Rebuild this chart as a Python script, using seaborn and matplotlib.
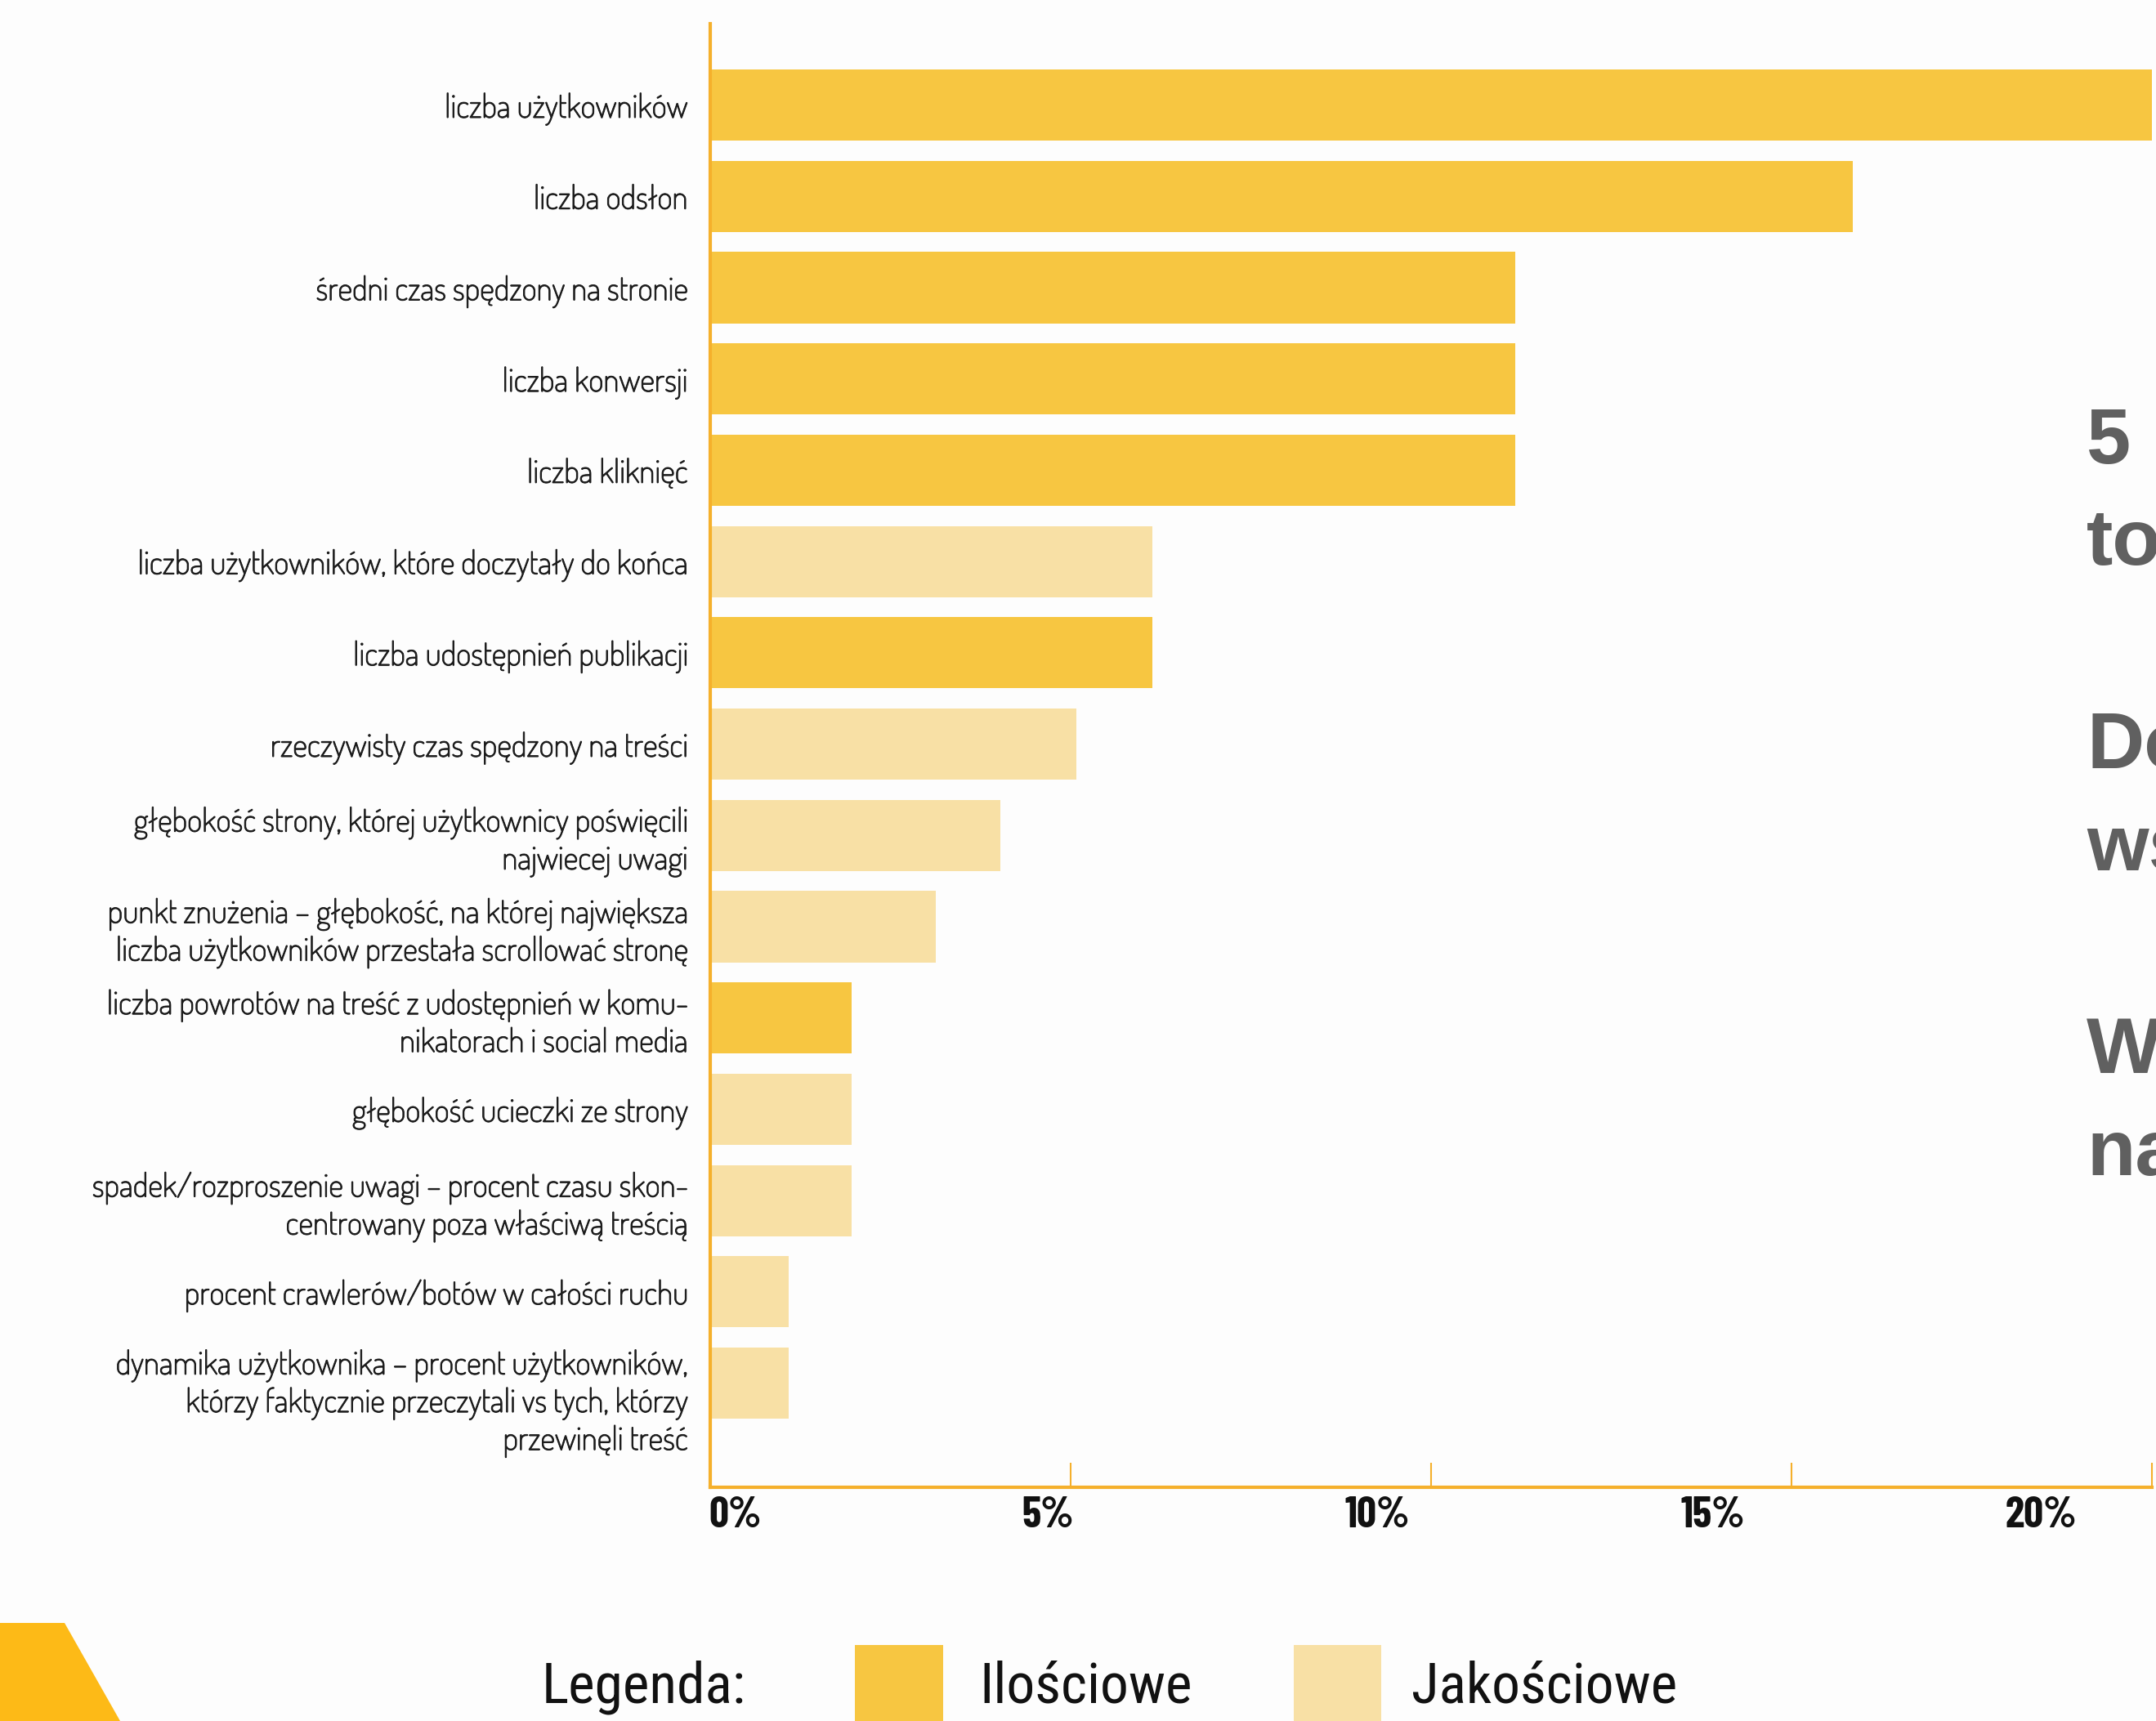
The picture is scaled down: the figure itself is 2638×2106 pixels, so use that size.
import matplotlib
matplotlib.use("Agg")
import matplotlib.pyplot as plt
import matplotlib.patheffects as pe
from matplotlib.patches import Rectangle, Polygon
from matplotlib.transforms import ScaledTranslation
import pandas as pd
import seaborn as sns

# --- data -------------------------------------------------------------------
metrics = [
    "liczba użytkowników",
    "liczba odsłon",
    "średni czas spędzony na stronie",
    "liczba konwersji",
    "liczba kliknięć",
    "liczba użytkowników, które doczytały do końca",
    "liczba udostępnień publikacji",
    "rzeczywisty czas spędzony na treści",
    "głębokość strony, której użytkownicy poświęcili\nnajwiecej uwagi",
    "punkt znużenia – głębokość, na której największa\nliczba użytkowników przestała scrollować stronę",
    "liczba powrotów na treść z udostępnień w komu-\nnikatorach i social media",
    "głębokość ucieczki ze strony",
    "spadek/rozproszenie uwagi – procent czasu skon-\ncentrowany poza właściwą treścią",
    "procent crawlerów/botów w całości ruchu",
    "dynamika użytkownika – procent użytkowników,\nktórzy faktycznie przeczytali vs tych, którzy\nprzewinęli treść",
]
shares = [20.0, 15.85, 11.17, 11.17, 11.17, 6.13, 6.13, 5.08, 4.03, 3.13, 1.96, 1.96, 1.96, 1.09, 1.09]
kinds = [
    "Ilościowe", "Ilościowe", "Ilościowe", "Ilościowe", "Ilościowe",
    "Jakościowe", "Ilościowe", "Jakościowe", "Jakościowe", "Jakościowe",
    "Ilościowe", "Jakościowe", "Jakościowe", "Jakościowe", "Jakościowe",
]
kind_order = ["Ilościowe", "Jakościowe"]
x_ticks = [0, 5, 10, 15, 20]
x_tick_labels = ["0%", "5%", "10%", "15%", "20%"]
legend_title = "Legenda:"
side_lines = ["5", "to", "", "Do", "ws", "", "W", "na"]

# --- style ------------------------------------------------------------------
BG = "#FDFDFD"
DARK = "#F7C641"
LIGHT = "#F8E0A5"
AXIS = "#F5B02C"
CORNER = "#FDBA17"
GREY = "#606060"
INK = "#1c1c1c"
palette = dict(zip(kind_order, [DARK, LIGHT]))

sns.set_theme(style="white")
plt.rcParams["font.family"] = ["Dosis", "DejaVu Sans"]

W, H, DPI = 2638, 2106, 100
fig = plt.figure(figsize=(W / DPI, H / DPI), dpi=DPI, facecolor=BG)


def fx(px):
    return px / W


def fy(py):
    return 1 - py / H


ax = fig.add_axes([fx(869), fy(1820), fx(2633) - fx(869), fy(29) - fy(1820)])
ax.set_facecolor("none")

df = pd.DataFrame({"metryka": metrics, "udział": shares, "rodzaj": kinds})
sns.barplot(data=df, x="udział", y="metryka", hue="rodzaj", hue_order=kind_order,
            palette=palette, dodge=False, width=0.78, saturation=1,
            linewidth=0, legend=False, ax=ax)

ax.set_xlim(0, 20)
ax.set_ylim(15.141, -0.891)
ax.set_xlabel("")
ax.set_ylabel("")

for side in ("top", "right"):
    ax.spines[side].set_visible(False)
for side in ("left", "bottom"):
    ax.spines[side].set_color(AXIS)
    ax.spines[side].set_linewidth(3)
    ax.spines[side].set_zorder(3)

# category labels
ax.tick_params(axis="y", left=False, length=0, pad=20, labelsize=28.5, labelcolor=INK)
ylabels = ax.get_yticklabels()
for lab in ylabels:
    lab.set_fontfamily(["Dosis", "DejaVu Sans"])
    lab.set_path_effects([pe.withStroke(linewidth=0.7, foreground=INK)])
# the three-line label sits a little lower than its bar
ylabels[-1].set_transform(ylabels[-1].get_transform()
                          + ScaledTranslation(0, -17 / DPI, fig.dpi_scale_trans))

# percentage axis: short inward ticks, labels set just below the line
ax.set_xticks(x_ticks)
ax.tick_params(axis="x", bottom=True, direction="in", length=21.6, width=1.5,
               color=AXIS, labelbottom=False)
x_label_pos = [0.35, 4.68, 9.26, 13.91, 18.46]
for pos, lab in zip(x_label_pos, x_tick_labels):
    ax.text(pos, -0.0195, lab, transform=ax.get_xaxis_transform(),
            ha="center", va="center", fontsize=38, fontweight="bold",
            family=["Barlow Condensed", "DejaVu Sans"], color="#111111")

# legend strip at the bottom
fig.add_artist(Rectangle((fx(1046), fy(2106)), fx(1154) - fx(1046), 93 / H,
                         transform=fig.transFigure, color=DARK, lw=0))
fig.add_artist(Rectangle((fx(1583), fy(2106)), fx(1690) - fx(1583), 93 / H,
                         transform=fig.transFigure, color=LIGHT, lw=0))
leg_font = dict(fontsize=50, family=["Roboto Condensed", "DejaVu Sans"],
                color="#111111", va="baseline", ha="left")
fig.text(fx(663), fy(2084), legend_title, **leg_font)
fig.text(fx(1198), fy(2084), kind_order[0], **leg_font)
fig.text(fx(1727), fy(2084), kind_order[1], **leg_font)

# corner accent
fig.add_artist(Polygon([[0, fy(1986)], [fx(79), fy(1986)], [fx(147), fy(2106)], [0, fy(2106)]],
                       closed=True, transform=fig.transFigure, color=CORNER, lw=0))

# side note running off the right edge
for i, line in enumerate(side_lines):
    if line:
        fig.text(fx(2553), fy(567 + i * 124.4), line, va="baseline", ha="left",
                 fontsize=70, fontweight="bold",
                 family=["Liberation Sans", "DejaVu Sans"], color=GREY)

fig.savefig("out.png", dpi=DPI, facecolor=BG)
